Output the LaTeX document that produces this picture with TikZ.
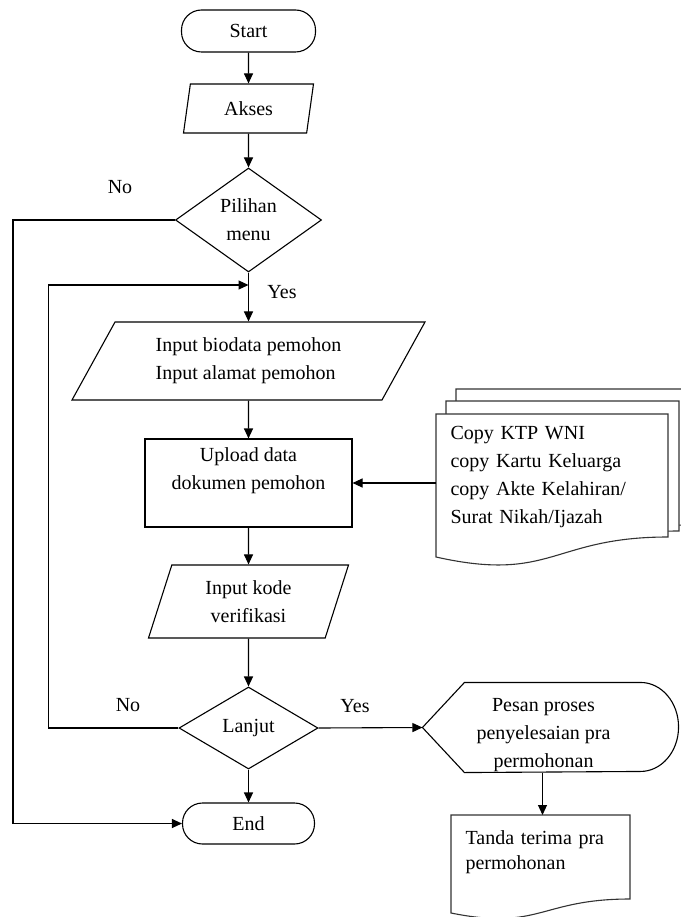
\documentclass[tikz,border=0pt]{standalone}
\usepackage{fontspec}
\setmainfont{Liberation Serif}
\usetikzlibrary{arrows.meta,shapes,positioning}

\begin{document}
\begin{tikzpicture}[
        x=1pt, y=-1pt,
        font=\fontsize{20}{28}\selectfont,
        every path/.style={line width=1.1pt},
        >={Triangle[length=10pt,width=9pt]},
        terminal/.style={draw, rounded corners=20pt, minimum width=134pt, minimum height=42pt, inner sep=0pt},
        iobox/.style={draw, trapezium, trapezium stretches body, inner sep=0pt},
        decision/.style={draw, diamond, inner sep=0pt, align=center},
        process/.style={draw, rectangle, align=center, minimum width=207pt, minimum height=88pt},
        doctext/.style={anchor=north west, align=left, inner xsep=14pt},
        docline/.style={draw=black!80, fill=white}
    ]

    \useasboundingbox (0,0) rectangle (680,917);

    % document shapes, text goes on top
    \path[docline] (456,389) -- (690,389) -- (690,525)
        .. controls (573,525) and (573,571) .. (456,545) -- cycle;
    \path[docline] (446,401) -- (679,401) -- (679,531)
        .. controls (562,531) and (562,577) .. (446,551) -- cycle;
    \path[docline] (436,414) -- (668,414) -- (668,537)
        .. controls (552,537) and (552,583) .. (436,557) -- cycle;
    \path[docline] (451,815) -- (630,815) -- (630,899)
        .. controls (540,899) and (540,931) .. (451,913) -- cycle;

    % Nodes
    \node[terminal] (start) at (248.5,31) {Start};
    \node[iobox, trapezium left angle=64, trapezium right angle=116,
        minimum width=130pt, minimum height=49pt] (akses) at (248.5,108.5) {Akses};
    \node[decision, aspect=1.4, minimum width=146pt, minimum height=104pt] (pilihan) at (248.5,220) {Pilihan\\menu};
    \node[iobox, align=left, trapezium left angle=47, trapezium right angle=133,
        minimum width=353pt, minimum height=78pt] (biodata) at (248.5,361) {Input biodata pemohon\\Input alamat pemohon};
    \node[process] (upload) at (248.5,483) {Upload data\\dokumen pemohon\\\mbox{}};
    \node[iobox, align=center, trapezium left angle=61, trapezium right angle=119,
        minimum width=200pt, minimum height=73pt] (kode) at (248.5,601.5) {Input kode\\verifikasi};
    \node[decision, aspect=1.7, minimum width=139pt, minimum height=82pt] (lanjut) at (248.5,728) {Lanjut};
    \node[terminal, minimum width=132pt, minimum height=41pt] (end) at (248.5,823.5) {End};

    \node[doctext, text width=202pt, inner ysep=12pt] (dokumen) at (436,414)
        {Copy KTP WNI\\copy Kartu Keluarga\\copy Akte Kelahiran/\\Surat Nikah/Ijazah};
    \node[minimum width=255pt, minimum height=89pt, inner sep=0pt,
        label={[name=pesantext, align=center, xshift=-7pt, yshift=-8pt]center:{Pesan proses\\penyelesaian pra\\permohonan}}]
        (pesan) at (550.5,727.5) {};
    \draw (pesan.west) -- ([xshift=42pt]pesan.north west) -- ([xshift=-38pt]pesan.north east)
        arc[start angle=90, end angle=-90, x radius=38pt, y radius=44.5pt]
        -- ([xshift=42pt]pesan.south west) -- cycle;
    \node[doctext, text width=151pt, inner ysep=15pt, font=\fontsize{20}{25}\selectfont] (tanda) at (451,815)
        {Tanda terima pra\\permohonan};

    \coordinate (loopin) at (248.5,285);

    % Labels
    \node (no1) at (120,187) {No};
    \node (yes1) at (282,292) {Yes};
    \node (no2) at (128,705) {No};
    \node (yes2) at (355,706) {Yes};

    % Edges
    \draw[->] (start) -- (akses);
    \draw[->] (akses) -- (pilihan);
    \draw[->] (pilihan) -- (biodata);
    \draw[->] (biodata) -- (upload);
    \draw[->] (upload) -- (kode);
    \draw[->] (kode) -- (lanjut);
    \draw[->] (lanjut) -- (end);
    \draw[->] (pilihan.west) -- ++(-162,0) |- (end.west);
    \draw[->] (lanjut.west) -- ++(-130,0) |- (loopin);
    \draw[->] (upload.east -| dokumen.west) -- (upload.east);
    \draw[->] (lanjut.east) -- (pesan.west);
    \draw[->] ([xshift=-8pt]pesan.south) -- ([xshift=-8pt]pesan.south |- tanda.north);

\end{tikzpicture}
\end{document}
